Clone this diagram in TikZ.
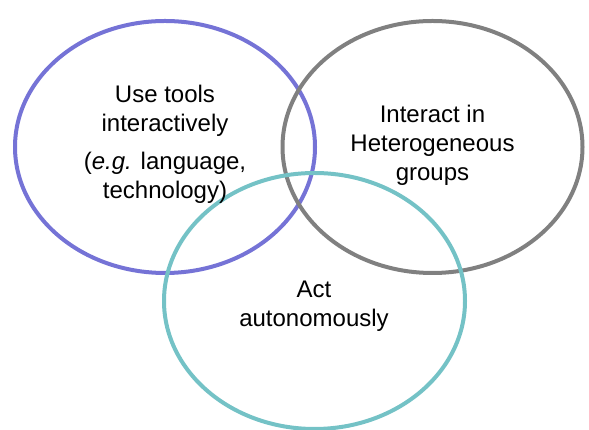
\documentclass[tikz,border=0pt]{standalone}
\usepackage{fontspec}
\setmainfont{Liberation Sans}
\usepackage{tikz}
\usepackage{xcolor}
\definecolor{toolpurple}{RGB}{117,115,214}
\definecolor{groupgray}{RGB}{128,128,128}
\definecolor{autoteal}{RGB}{116,194,198}

\begin{document}
\begin{tikzpicture}[x=1pt, y=1pt,
    ring/.style={line width=4pt},
    label/.style={align=center, inner sep=0pt, font=\fontsize{24}{29}\selectfont}]
  \useasboundingbox (0,0) rectangle (589,430);
  % --- three overlapping competency rings ------------------------------
  \coordinate (tools) at (165,283);
  \coordinate (groups) at (432.5,283);
  \coordinate (auto) at (314.5,129);
  \draw[ring, toolpurple] (tools) ellipse (150 and 126);
  \draw[ring, groupgray] (groups) ellipse (150 and 126);
  \draw[ring, autoteal] (auto) ellipse (150.5 and 128);
  % --- labels ----------------------------------------------------------
  \node[label] (toolstext) at (165,286) {Use tools\\interactively\\[9pt]
        (\textit{e.g.} language,\\technology)};
  \node[label] (groupstext) at (432.5,285) {Interact in\\Heterogeneous\\groups};
  \node[label] (autotext) at (314,124) {Act\\autonomously};
\end{tikzpicture}
\end{document}
